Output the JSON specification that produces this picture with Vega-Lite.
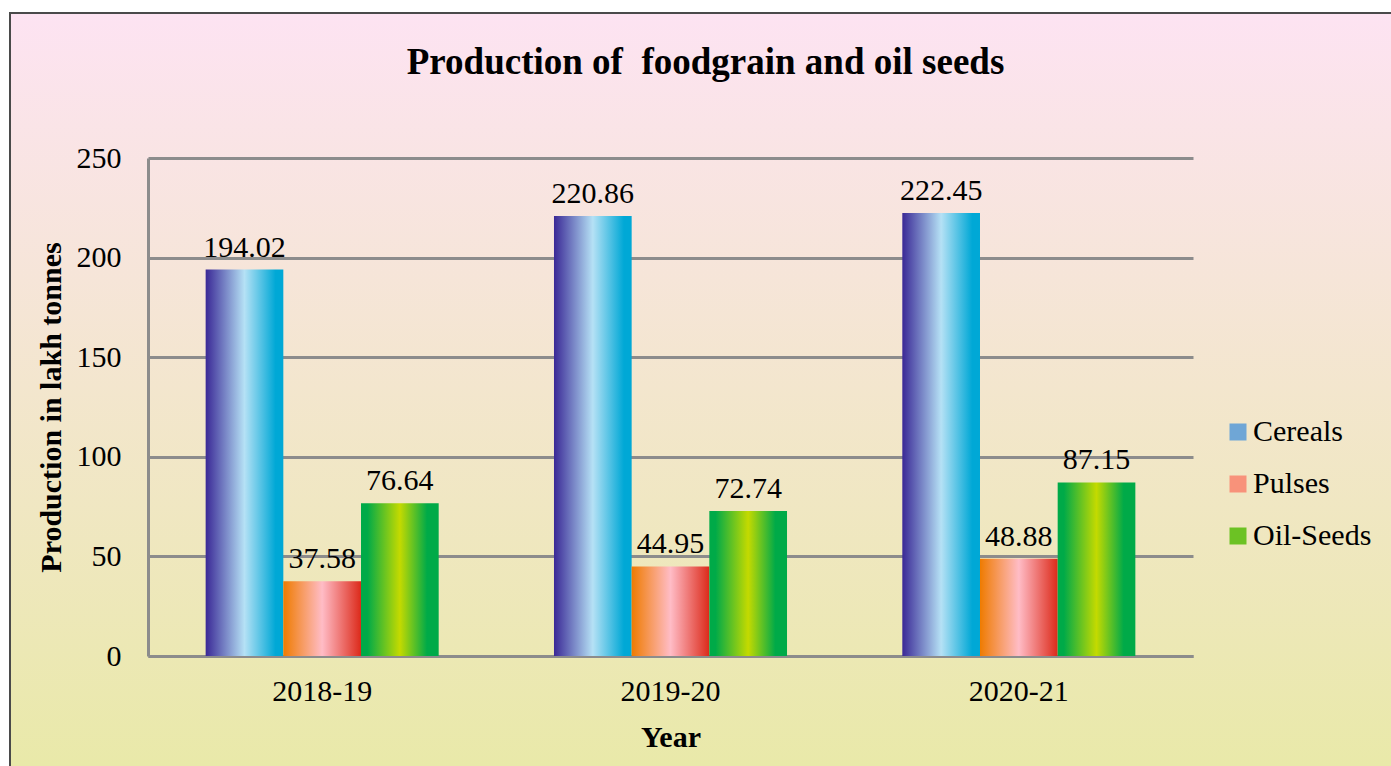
{
  "$schema": "https://vega.github.io/schema/vega-lite/v6.json",
  "autosize": "none",
  "padding": {"left": 10, "top": 13, "right": 0, "bottom": 0},
  "width": 1381,
  "height": 753,
  "background": "white",
  "view": {
    "fill": {"gradient": "linear", "x1": 0, "y1": 0, "x2": 0, "y2": 1, "stops": [{"offset": 0, "color": "#fde3f2"}, {"offset": 1, "color": "#e9e9a9"}]},
    "stroke": "#4a4a4a",
    "strokeWidth": 2,
    "strokeDash": [1381, 2134, 760, 10]
  },
  "title": {
    "text": "Production of\u00a0 foodgrain and oil seeds",
    "font": "Liberation Serif",
    "fontSize": 37,
    "fontWeight": "bold",
    "color": "black",
    "anchor": "middle",
    "frame": "group",
    "baseline": "alphabetic",
    "offset": -98,
    "dx": 5
  },
  "data": {
    "values": [
      {"Year": "2018-19", "Crop": "Cereals", "Production": 194.02},
      {"Year": "2018-19", "Crop": "Pulses", "Production": 37.58},
      {"Year": "2018-19", "Crop": "Oil-Seeds", "Production": 76.64},
      {"Year": "2019-20", "Crop": "Cereals", "Production": 220.86},
      {"Year": "2019-20", "Crop": "Pulses", "Production": 44.95},
      {"Year": "2019-20", "Crop": "Oil-Seeds", "Production": 72.74},
      {"Year": "2020-21", "Crop": "Cereals", "Production": 222.45},
      {"Year": "2020-21", "Crop": "Pulses", "Production": 48.88},
      {"Year": "2020-21", "Crop": "Oil-Seeds", "Production": 87.15}
    ]
  },
  "encoding": {
    "x": {
      "field": "Year",
      "type": "nominal",
      "sort": null,
      "scale": {"range": [138, 1183], "paddingInner": 0.331, "paddingOuter": 0.1655},
      "axis": {
        "title": "Year",
        "labelAngle": 0,
        "offset": -110,
        "ticks": false,
        "labelPadding": 20,
        "labelFont": "Liberation Serif",
        "labelFontSize": 30,
        "labelColor": "black",
        "titleFont": "Liberation Serif",
        "titleFontSize": 30,
        "titleFontWeight": "bold",
        "titleColor": "black",
        "titlePadding": 16,
        "domainColor": "#8c8c8c",
        "domainWidth": 3,
        "grid": false
      }
    },
    "xOffset": {
      "field": "Crop",
      "type": "nominal",
      "sort": ["Cereals", "Pulses", "Oil-Seeds"],
      "scale": {"domain": ["Cereals", "Pulses", "Oil-Seeds"], "paddingInner": 0, "paddingOuter": 0}
    },
    "y": {
      "field": "Production",
      "type": "quantitative",
      "scale": {"domain": [0, 250], "range": [643, 145], "nice": false, "zero": true},
      "axis": {
        "title": "Production in lakh tonnes",
        "values": [0, 50, 100, 150, 200, 250],
        "offset": -138,
        "ticks": false,
        "labelPadding": 27,
        "labelFont": "Liberation Serif",
        "labelFontSize": 30,
        "labelColor": "black",
        "titleFont": "Liberation Serif",
        "titleFontSize": 30,
        "titleFontWeight": "bold",
        "titleColor": "black",
        "titlePadding": 10,
        "domainColor": "#8c8c8c",
        "domainWidth": 3,
        "grid": true,
        "gridColor": "#8c8c8c",
        "gridWidth": 3,
        "gridOpacity": 1
      }
    }
  },
  "layer": [
    {
      "mark": {"type": "bar", "strokeWidth": 0, "opacity": 1},
      "encoding": {
        "fill": {
          "condition": [
            {"test": "datum.Crop === 'Cereals'", "value": {"gradient": "linear", "x1": 0, "y1": 0, "x2": 1, "y2": 0, "stops": [{"offset": 0, "color": "#3a2896"}, {"offset": 0.5, "color": "#b5e1f5"}, {"offset": 0.9, "color": "#00a8d6"}, {"offset": 1, "color": "#00a8d6"}]}},
            {"test": "datum.Crop === 'Pulses'", "value": {"gradient": "linear", "x1": 0, "y1": 0, "x2": 1, "y2": 0, "stops": [{"offset": 0, "color": "#ef7b00"}, {"offset": 0.5, "color": "#ffbcc6"}, {"offset": 1, "color": "#dc2a1a"}]}}
          ],
          "value": {"gradient": "linear", "x1": 0, "y1": 0, "x2": 1, "y2": 0, "stops": [{"offset": 0, "color": "#00aa48"}, {"offset": 0.08, "color": "#00aa48"}, {"offset": 0.5, "color": "#c4da00"}, {"offset": 0.85, "color": "#00aa48"}, {"offset": 1, "color": "#00aa48"}]}
        }
      }
    },
    {
      "mark": {"type": "bar", "opacity": 0},
      "encoding": {
        "color": {
          "field": "Crop",
          "type": "nominal",
          "sort": ["Cereals", "Pulses", "Oil-Seeds"],
          "scale": {
            "domain": ["Cereals", "Pulses", "Oil-Seeds"],
            "range": ["#6fa6d6", "#f8927a", "#6cc224"]
          },
          "legend": {
            "orient": "none",
            "legendX": 1213,
            "legendY": 404,
            "title": null,
            "symbolType": "square",
            "symbolSize": 289,
            "symbolStrokeWidth": 0,
            "symbolOpacity": 1,
            "labelFont": "Liberation Serif",
            "labelFontSize": 30,
            "labelColor": "black",
            "labelOffset": 0,
            "rowPadding": 22,
            "padding": 0
          }
        }
      }
    },
    {
      "mark": {"type": "text", "font": "Liberation Serif", "fontSize": 30, "baseline": "alphabetic", "dy": -13, "color": "black"},
      "encoding": {
        "text": {"field": "Production", "type": "quantitative", "format": ".2f"}
      }
    }
  ]
}
